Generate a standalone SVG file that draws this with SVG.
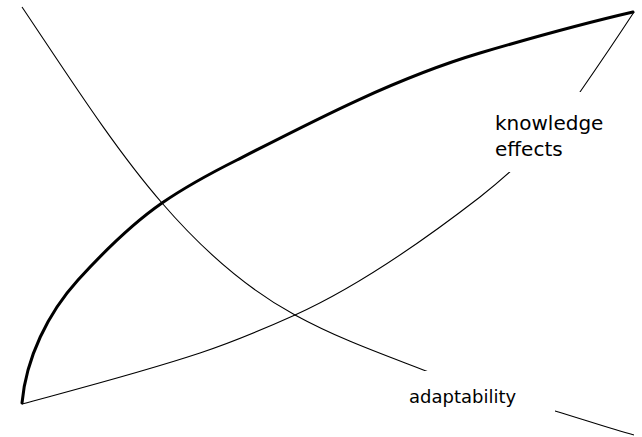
<svg xmlns="http://www.w3.org/2000/svg" width="642" height="437" viewBox="0 0 642 437">
  <style>
    .thin { fill: none; stroke: #000; stroke-width: 1.1; }
    .thick { fill: none; stroke: #000; stroke-width: 3; stroke-linecap: round; }
    .bg { fill: #fff; stroke: none; }
    .lbl { font-family: "DejaVu Sans", Verdana, sans-serif; fill: #000; }
  </style>
  <rect width="642" height="437" fill="#fff"/>
  <g id="connectors">
    <path id="curve-thick" class="thick" d="M22,403 C26,358 48,313 78,280 C103.5,252 131,224.5 162,203 C186,186.5 211,173 237,160 C315,120 396,78 480,53 C531,38 581,24 633,12"/>
    <path id="curve-knowledge" class="thin" d="M22,404 C81,388 141,372.5 200,353 C232,342.4 263,329.4 295,315 C357,287 418,245 480,197 C513,171 547,140 580,92 C598,66 617,38 634,12"/>
    <path id="curve-adaptability" class="thin" d="M22,7 C69,77 115,149 162,203 C206,254 251,291 295,315 C339,339 382,354 426,371 C469,387 512,398 555,411 C582,419 608,428 634,435"/>
  </g>
  <g id="label-knowledge-effects">
    <rect class="bg" x="485" y="92" width="130" height="80"/>
    <text class="lbl" font-size="20" x="495" y="130">knowledge</text>
    <text class="lbl" font-size="20" x="495" y="156">effects</text>
  </g>
  <g id="label-adaptability">
    <rect class="bg" x="371" y="371" width="184" height="52"/>
    <text class="lbl" font-size="18" x="409" y="403">adaptability</text>
  </g>
</svg>
